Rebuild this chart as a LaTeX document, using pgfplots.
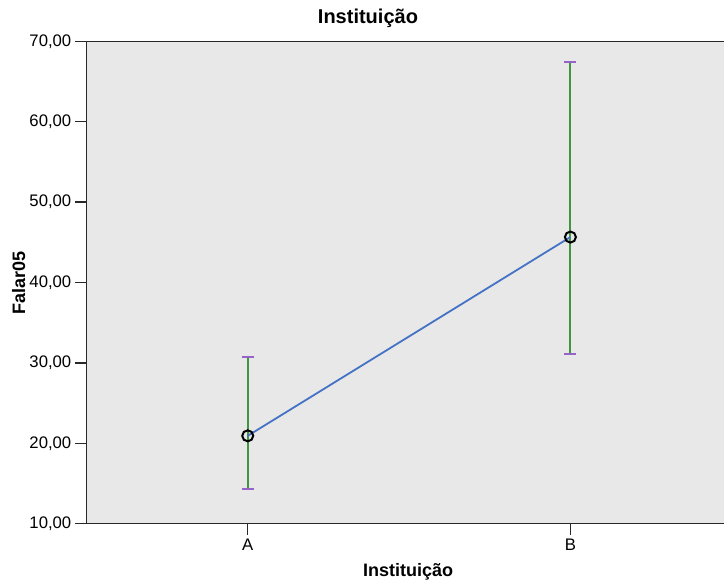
\documentclass[border=0pt]{standalone}
\usepackage{pgfplots}
\pgfplotsset{compat=1.18}
\usepackage{pgfplotstable}
\usepackage{fontspec}
\setmainfont{Liberation Sans}
\definecolor{bggray}{RGB}{232,232,232}
\definecolor{lineblue}{RGB}{68,114,196}
\definecolor{errgreen}{RGB}{64,150,64}
\definecolor{cappurple}{RGB}{150,100,200}
\definecolor{axisdark}{RGB}{40,40,40}
\pgfplotstableread{
x y ep em
0 20.93 9.82 6.58
1 45.65 21.75 14.55
}\datatab
\begin{document}
\begin{tikzpicture}
\begin{axis}[
  scale only axis,
  width=637.7pt, height=482.4pt,
  at={(0pt,0pt)}, anchor=south west,
  xmin=-0.5003, xmax=1.476,
  ymin=10, ymax=70,
  axis background/.style={fill=bggray},
  axis line style={draw=none},
  xtick={0,1}, xticklabels={A,B},
  ytick={10,20,...,70},
  xtick pos=left, ytick pos=left,
  tick align=outside,
  major tick length=11.5pt,
  every tick/.style={axisdark, line width=1.5pt},
  /pgf/number format/assume math mode=true,
  yticklabel style={/pgf/number format/.cd, fixed, fixed zerofill, precision=2, use comma},
  ticklabel style={font=\fontsize{16.7}{18}\selectfont},
  title={Instituição},
  xlabel={Instituição},
  ylabel={Falar05},
  title style={font=\bfseries\fontsize{20}{22}\selectfont, at={(axis description cs:0.4417,1.0249)}, anchor=base, inner sep=0pt},
  xlabel style={font=\bfseries\fontsize{18}{20}\selectfont, at={(axis description cs:0.5045,-0.1099)}, anchor=base, inner sep=0pt},
  ylabel style={font=\bfseries\fontsize{18}{20}\selectfont, at={(axis description cs:-0.0961,0.499)}, anchor=base, rotate=0, inner sep=0pt},
  clip=false,
]
\addplot[draw=none, mark=none, forget plot,
  error bars/.cd, y dir=both, y explicit,
  error bar style={errgreen, line width=2pt},
  error mark options={cappurple, line width=2.2pt, mark size=6pt, rotate=90}]
  table[x=x, y=y, y error plus=ep, y error minus=em] {\datatab};
\addplot[lineblue, line width=1.8pt, mark=o, mark size=5.5pt,
  mark options={black, line width=2pt, fill=none}]
  table[x=x, y=y] {\datatab};
\draw[axisdark, line width=1.5pt] (rel axis cs:1,1) -- (rel axis cs:0,1) -- (rel axis cs:0,0) -- (rel axis cs:1,0);
\end{axis}
\pgfresetboundingbox
\path (-86.3pt,-57.3pt) rectangle (637.7pt,523.7pt);
\end{tikzpicture}
\end{document}
